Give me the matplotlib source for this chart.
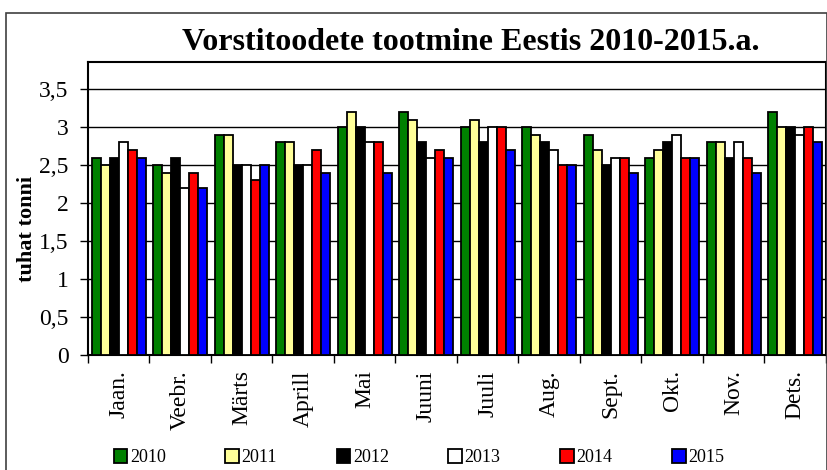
import numpy as np
import matplotlib
matplotlib.use('Agg')
from matplotlib import pyplot as plt
from matplotlib.patches import Rectangle

months = ['Jaan.', 'Veebr.', 'Märts', 'Aprill', 'Mai', 'Juuni',
          'Juuli', 'Aug.', 'Sept.', 'Okt.', 'Nov.', 'Dets.']
years = ['2010', '2011', '2012', '2013', '2014', '2015']

y2010 = [2.6, 2.5, 2.9, 2.8, 3.0, 3.2, 3.0, 3.0, 2.9, 2.6, 2.8, 3.2]
y2011 = [2.5, 2.4, 2.9, 2.8, 3.2, 3.1, 3.1, 2.9, 2.7, 2.7, 2.8, 3.0]
y2012 = [2.6, 2.6, 2.5, 2.5, 3.0, 2.8, 2.8, 2.8, 2.5, 2.8, 2.6, 3.0]
y2013 = [2.8, 2.2, 2.5, 2.5, 2.8, 2.6, 3.0, 2.7, 2.6, 2.9, 2.8, 2.9]
y2014 = [2.7, 2.4, 2.3, 2.7, 2.8, 2.7, 3.0, 2.5, 2.6, 2.6, 2.6, 3.0]
y2015 = [2.6, 2.2, 2.5, 2.4, 2.4, 2.6, 2.7, 2.5, 2.4, 2.6, 2.4, 2.8]

colors = ['#008000', '#FFFF99', '#000000', '#FFFFFF', '#FF0000', '#0000FF']

plt.rcParams['font.family'] = ['Liberation Serif', 'DejaVu Serif']

fig = plt.figure(figsize=(8.28, 4.70), dpi=100)
ax = fig.add_axes([88/828, 1-355/470, (826-88)/828, (355-62)/470])

# outer chart border
fig.patches.append(Rectangle((6/828, -0.1), (827-6)/828, 1.1 - 13/470,
                             transform=fig.transFigure, fill=False,
                             edgecolor='#404040', linewidth=1.2))

x = np.arange(len(months))
w = 0.146
series = [y2010, y2011, y2012, y2013, y2014, y2015]
for i, (vals, c, lab) in enumerate(zip(series, colors, years)):
    ax.bar(x + (i - 2.5) * w, vals, width=w, color=c, edgecolor='black',
           linewidth=1.3, label=lab, zorder=3)

ax.set_xlim(-0.5, len(months) - 0.5)
ax.set_ylim(0, 3.86)
ax.set_yticks(np.arange(0, 3.51, 0.5))
ax.set_yticklabels(['0', '0,5', '1', '1,5', '2', '2,5', '3', '3,5'], fontsize=17)
ax.yaxis.grid(True, color='black', linewidth=1.0, zorder=0)
ax.set_axisbelow(True)

ax.set_xticks(x)
ax.set_xticklabels(months, rotation=90, fontsize=17)
ax.set_xticks(np.arange(-0.5, len(months)), minor=True)
ax.tick_params(axis='x', which='major', length=0, pad=11)
ax.tick_params(axis='x', which='minor', length=6, width=1, direction='out')
ax.tick_params(axis='y', length=6, width=1, direction='out', pad=8)

for s in ax.spines.values():
    s.set_linewidth(1.5)

ax.set_ylabel('tuhat tonni', fontsize=16, fontweight='bold')
ax.yaxis.set_label_coords(-0.069, 0.43)
fig.text(0.568, 0.91, 'Vorstitoodete tootmine Eestis 2010-2015.a.',
         fontsize=23, fontweight='bold', ha='center', va='center')

leg = fig.legend(loc='center', bbox_to_anchor=(0.506, 0.026), ncol=6,
                 frameon=False, fontsize=13, handlelength=0.75,
                 handleheight=0.75, handletextpad=0.15, columnspacing=3.3)

fig.savefig('out.png', dpi=100)
